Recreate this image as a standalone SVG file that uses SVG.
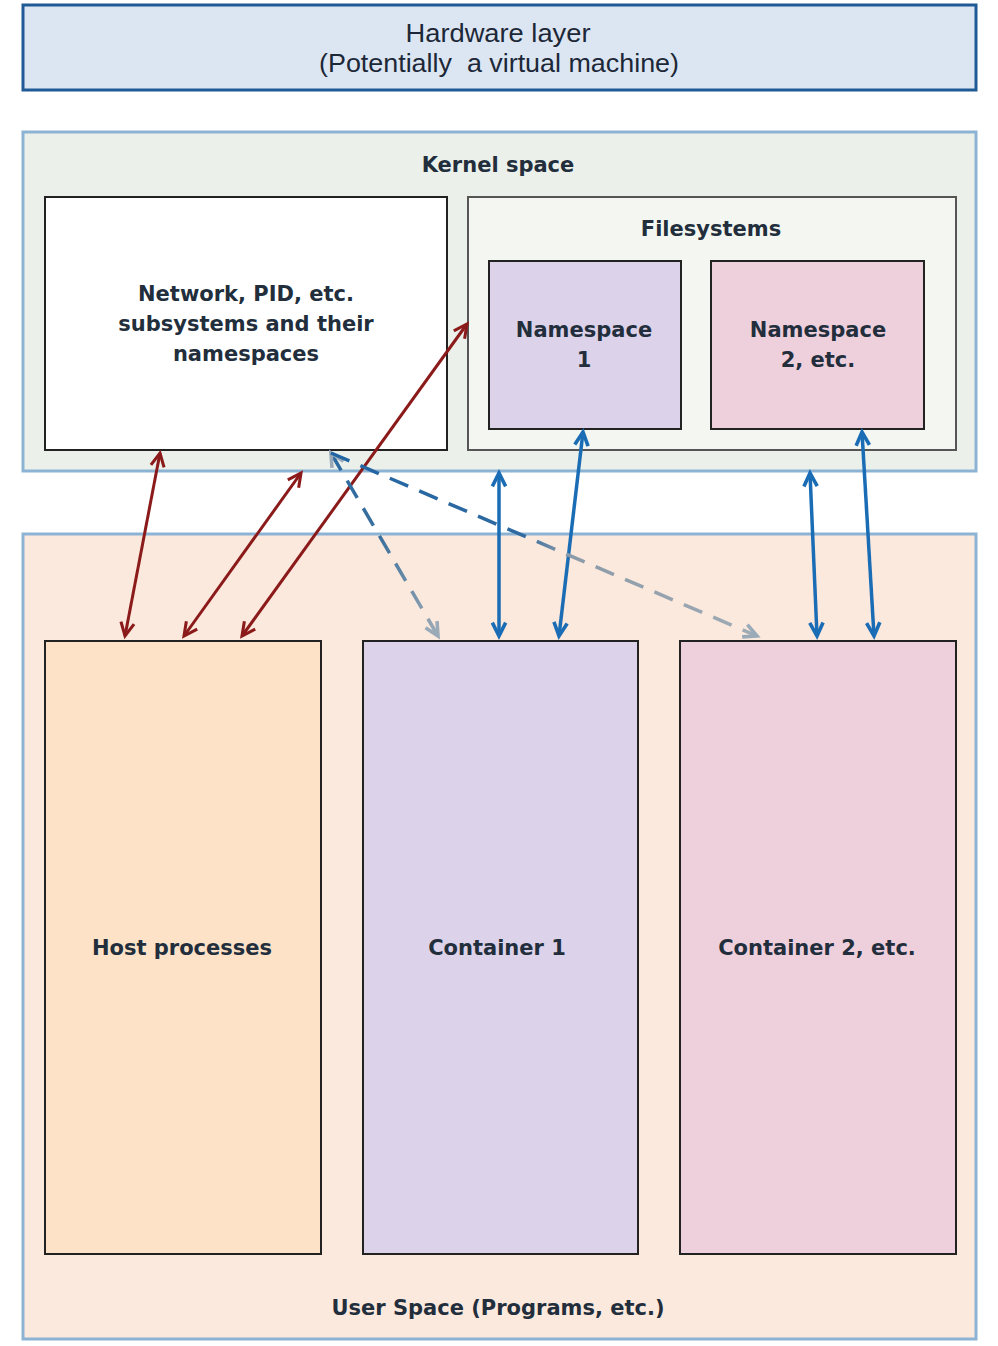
<svg xmlns="http://www.w3.org/2000/svg" width="998" height="1346" viewBox="0 0 998 1346">
<style>
.t{font-family:"Liberation Sans",Arial,sans-serif;font-size:26px;fill:#1c2838;text-anchor:middle}
.b{font-family:"DejaVu Sans",Verdana,sans-serif;font-size:21px;fill:#222e3c;text-anchor:middle;font-weight:bold}
.box{stroke:#222;stroke-width:2}
.red{stroke:#8b1a1a;stroke-width:3;fill:none}
.blue{stroke:#1a6db5;stroke-width:3.5;fill:none}
.dash{stroke-width:3.5;fill:none;stroke-dasharray:20 12}
</style>
<defs>
<marker id="mr" viewBox="0 0 12 12" refX="11" refY="6" markerWidth="16" markerHeight="16" orient="auto-start-reverse" markerUnits="userSpaceOnUse" style="overflow:visible"><path d="M1,1 L11,6 L1,11" fill="none" stroke="#8b1a1a" stroke-width="2.3"/></marker>
<marker id="mb" viewBox="0 0 12 12" refX="11" refY="6" markerWidth="16" markerHeight="16" orient="auto-start-reverse" markerUnits="userSpaceOnUse" style="overflow:visible"><path d="M1,1 L11,6 L1,11" fill="none" stroke="#1a6db5" stroke-width="2.7"/></marker>
<marker id="mg" viewBox="0 0 12 12" refX="11" refY="6" markerWidth="16" markerHeight="16" orient="auto-start-reverse" markerUnits="userSpaceOnUse" style="overflow:visible"><path d="M1,1 L11,6 L1,11" fill="none" stroke="#9aaab8" stroke-width="2.7"/></marker>
<linearGradient id="g1" gradientUnits="userSpaceOnUse" x1="331" y1="453" x2="438" y2="637"><stop offset="0" stop-color="#2b6aa3"/><stop offset="0.45" stop-color="#3a6f9c"/><stop offset="1" stop-color="#a0acb6"/></linearGradient>
<linearGradient id="g2" gradientUnits="userSpaceOnUse" x1="331" y1="453" x2="757" y2="637"><stop offset="0" stop-color="#2265a3"/><stop offset="0.45" stop-color="#2f6aa0"/><stop offset="0.55" stop-color="#8b9aa8"/><stop offset="1" stop-color="#a0acb6"/></linearGradient>
</defs>

<g id="hardware">
<rect x="23" y="5" width="953" height="85" fill="#dce6f2" stroke="#1f5a96" stroke-width="3"/>
<text class="t" x="498" y="42" textLength="185" lengthAdjust="spacingAndGlyphs">Hardware layer</text>
<text class="t" x="499" y="72" xml:space="preserve" textLength="360" lengthAdjust="spacingAndGlyphs">(Potentially  a virtual machine)</text>
</g>

<g id="kernel">
<rect x="23" y="132" width="953" height="339" fill="#ebf1ea" stroke="#8db3d4" stroke-width="3"/>
<text class="b" x="498" y="172">Kernel space</text>
</g>

<g id="network">
<rect class="box" x="45" y="197" width="402" height="253" fill="#ffffff"/>
<text class="b" x="246" y="301">Network, PID, etc.</text>
<text class="b" x="246" y="331">subsystems and their</text>
<text class="b" x="246" y="361">namespaces</text>
</g>

<g id="filesystems">
<rect x="468" y="197" width="488" height="253" fill="#f3f6f1" stroke="#555" stroke-width="2"/>
<text class="b" x="711" y="236">Filesystems</text>
</g>

<g id="ns1">
<rect class="box" x="489" y="261" width="192" height="168" fill="#dcd2ea"/>
<text class="b" x="584" y="337">Namespace</text>
<text class="b" x="584" y="367">1</text>
</g>

<g id="ns2">
<rect class="box" x="711" y="261" width="213" height="168" fill="#eecfdc"/>
<text class="b" x="818" y="337">Namespace</text>
<text class="b" x="818" y="367">2, etc.</text>
</g>

<g id="userspace">
<rect x="23" y="534" width="953" height="805" fill="#fce9dd" stroke="#8db3d4" stroke-width="3"/>
<text class="b" x="498" y="1315">User Space (Programs, etc.)</text>
</g>

<g id="host">
<rect class="box" x="45" y="641" width="276" height="613" fill="#fde2c8"/>
<text class="b" x="182" y="955">Host processes</text>
</g>

<g id="container1">
<rect class="box" x="363" y="641" width="275" height="613" fill="#dcd2ea"/>
<text class="b" x="497" y="955">Container 1</text>
</g>

<g id="container2">
<rect class="box" x="680" y="641" width="276" height="613" fill="#eecfdc"/>
<text class="b" x="817" y="955">Container 2, etc.</text>
</g>

<g id="connectors">
<line class="red" x1="160" y1="453" x2="125" y2="636" marker-start="url(#mr)" marker-end="url(#mr)"/>
<line class="red" x1="301" y1="473" x2="184" y2="636" marker-start="url(#mr)" marker-end="url(#mr)"/>
<line class="red" x1="467" y1="324" x2="242" y2="636" marker-start="url(#mr)" marker-end="url(#mr)"/>
<line class="blue" x1="499" y1="473" x2="499" y2="636" marker-start="url(#mb)" marker-end="url(#mb)"/>
<line class="blue" x1="583" y1="432" x2="559" y2="636" marker-start="url(#mb)" marker-end="url(#mb)"/>
<line class="blue" x1="810" y1="473" x2="817" y2="636" marker-start="url(#mb)" marker-end="url(#mb)"/>
<line class="blue" x1="862" y1="432" x2="874" y2="636" marker-start="url(#mb)" marker-end="url(#mb)"/>
<line class="dash" x1="331" y1="453" x2="438" y2="636" stroke="url(#g1)" marker-start="url(#mg)" marker-end="url(#mg)"/>
<line class="dash" x1="331" y1="453" x2="757" y2="636" stroke="url(#g2)" marker-end="url(#mg)"/>
</g>
</svg>
